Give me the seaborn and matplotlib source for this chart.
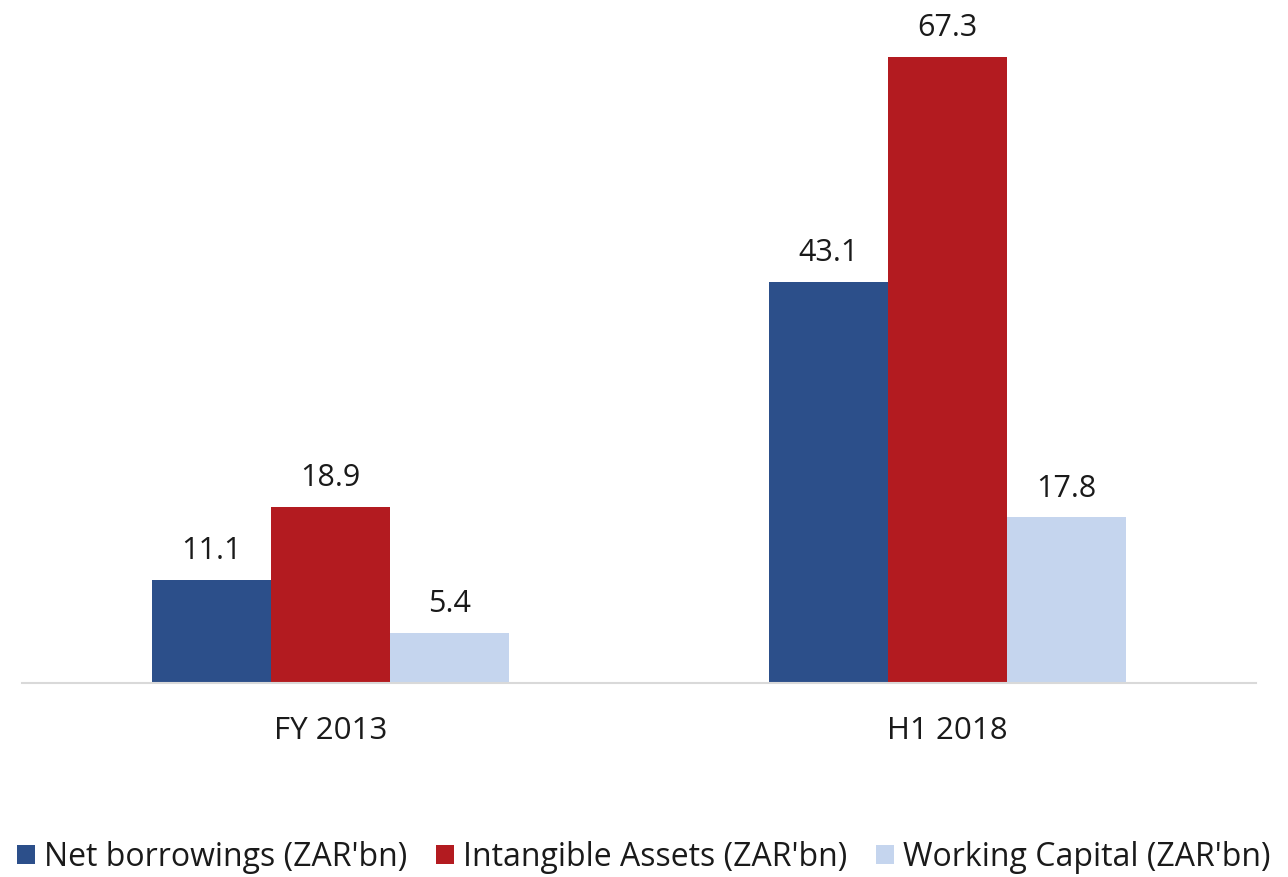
import numpy as np
import pandas as pd
import matplotlib
matplotlib.use('Agg')
import matplotlib.pyplot as plt
import seaborn as sns
from matplotlib.patches import Patch

# Dados
periodos = ['FY 2013', 'H1 2018']
series = ["Net borrowings (ZAR'bn)", "Intangible Assets (ZAR'bn)", "Working Capital (ZAR'bn)"]
net_borrowings = [11.1, 43.1]
intangible_assets = [18.9, 67.3]
working_capital = [5.4, 17.8]
cores = ['#2C4F8A', '#B31B20', '#C5D5EE']

df = pd.DataFrame({
    'periodo': periodos * 3,
    'serie': [series[0]] * 2 + [series[1]] * 2 + [series[2]] * 2,
    'valor': net_borrowings + intangible_assets + working_capital,
})

sns.set_style('white')
plt.rcParams['font.family'] = ['Open Sans', 'DejaVu Sans']

fig = plt.figure(figsize=(12.88, 8.77), dpi=100)
ax = fig.add_axes([22 / 1288, 1 - 683 / 877, 1234 / 1288, (683 - 13.4) / 877])

sns.barplot(data=df, x='periodo', y='valor', hue='serie', hue_order=series,
            order=periodos, palette=cores, width=0.579, gap=0, linewidth=0,
            saturation=1, legend=False, ax=ax)

for cont in ax.containers:
    ax.bar_label(cont, fmt='%.1f', padding=10, fontsize=22, color='#1a1a1a')

ax.set_xlim(-0.5, 1.5)
ax.set_ylim(0, 72)
ax.set_xlabel('')
ax.set_ylabel('')
ax.set_yticks([])
ax.tick_params(axis='x', length=0, pad=24, labelsize=22.5, labelcolor='#1a1a1a')
for lado in ['top', 'right', 'left']:
    ax.spines[lado].set_visible(False)
ax.spines['bottom'].set_color('#D9D9D9')
ax.spines['bottom'].set_linewidth(1.5)

handles = [Patch(facecolor=c, edgecolor='none') for c in cores]
fig.legend(handles, series, loc='center', bbox_to_anchor=(0.5, 1 - 857 / 877), ncol=3,
           frameon=False, fontsize=23, handlelength=0.55, handleheight=0.55,
           handletextpad=0.3, columnspacing=0.9, labelcolor='#1a1a1a',
           borderpad=0, borderaxespad=0)

fig.savefig('out.png', dpi=100)
